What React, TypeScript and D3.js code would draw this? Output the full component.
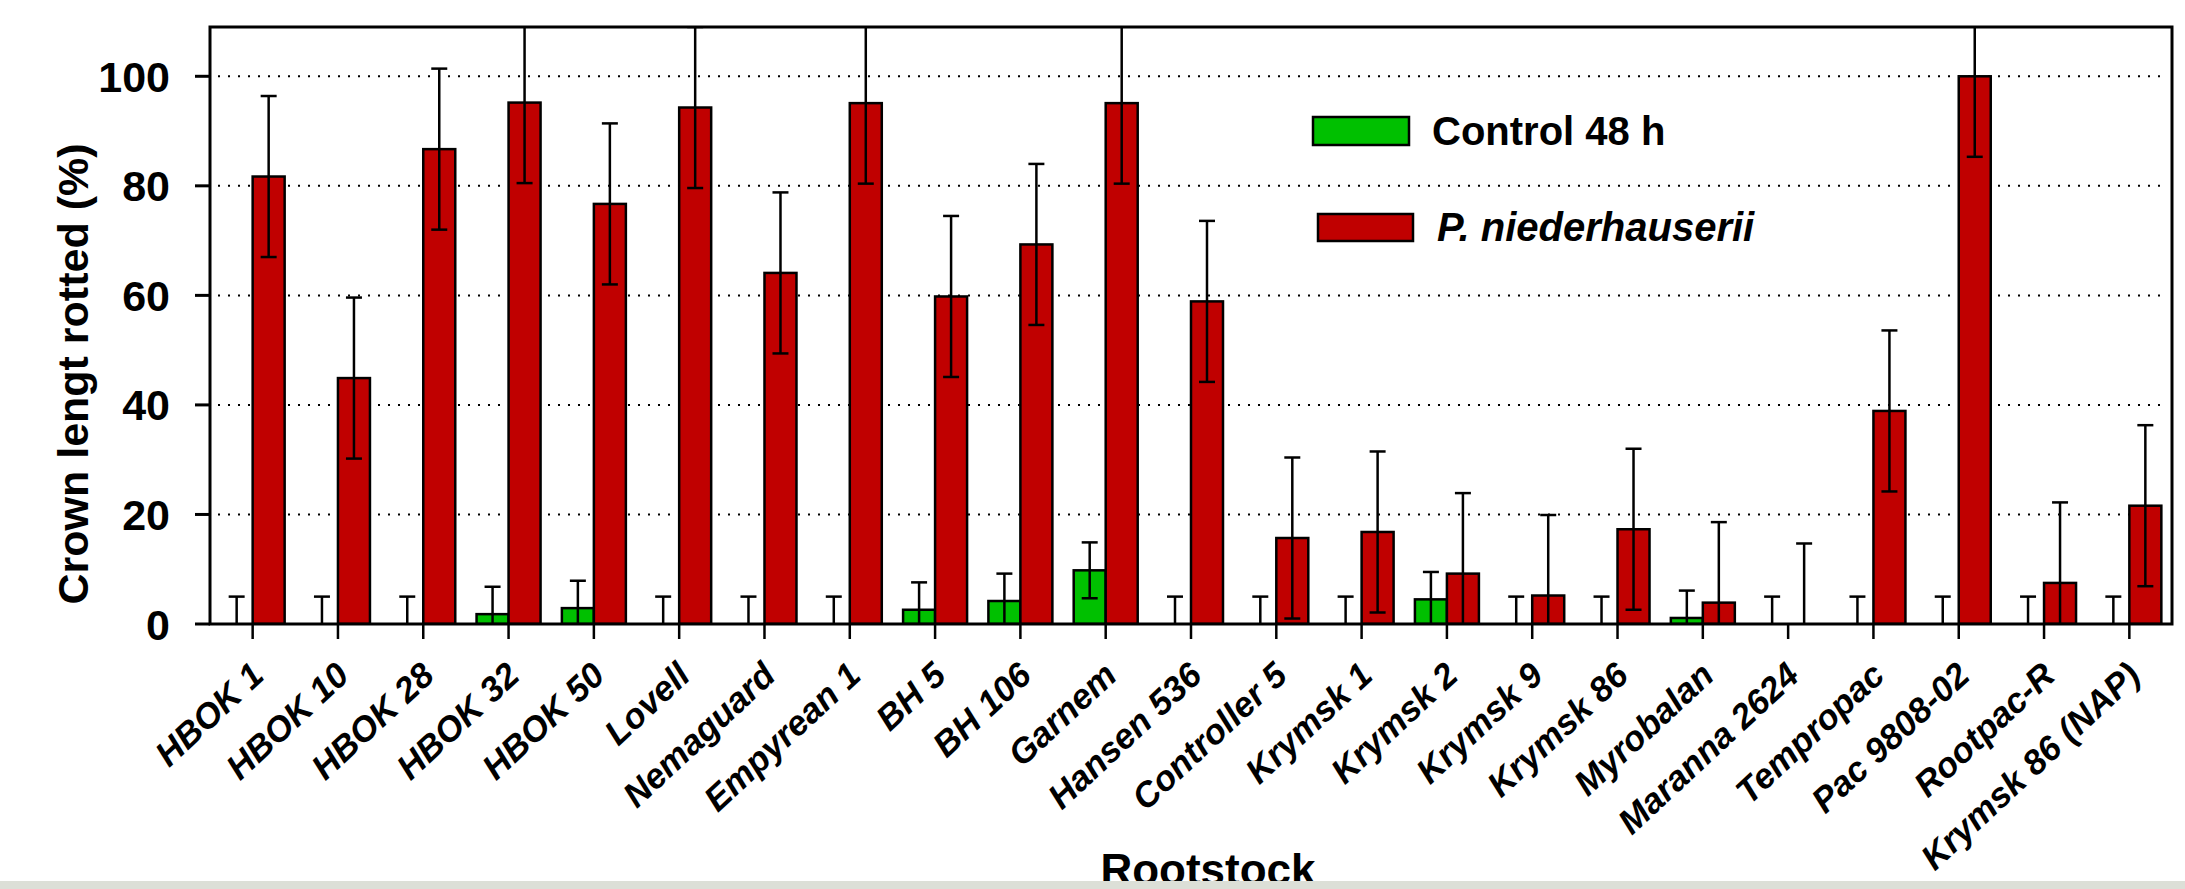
import * as d3 from "d3";

const categories = [
  "HBOK 1", "HBOK 10", "HBOK 28", "HBOK 32", "HBOK 50", "Lovell", "Nemaguard",
  "Empyrean 1", "BH 5", "BH 106", "Garnem", "Hansen 536", "Controller 5",
  "Krymsk 1", "Krymsk 2", "Krymsk 9", "Krymsk 86", "Myrobalan", "Maranna 2624",
  "Tempropac", "Pac 9808-02", "Rootpac-R", "Krymsk 86 (NAP)",
];
// Control 48 h
const control = [0, 0, 0, 1.8, 2.9, 0, 0, 0, 2.6, 4.2, 9.8, 0, 0, 0, 4.5, 0, 0, 1.1, 0, 0, 0, 0, 0];
const controlErr = [5, 5, 5, 5, 5, 5, 5, 5, 5, 5, 5.1, 5, 5, 5, 5, 5, 5, 5, 5, 5, 5, 5, 5];
// P. niederhauserii
const infected = [81.7, 44.9, 86.7, 95.2, 76.7, 94.3, 64.1, 95.1, 59.8, 69.3, 95.1, 58.9, 15.7, 16.8, 9.2, 5.2, 17.3, 3.9, 0, 38.9, 100, 7.5, 21.6];
const infectedErr = [14.7, 14.7, 14.7, 14.7, 14.7, 14.7, 14.7, 14.7, 14.7, 14.7, 14.7, 14.7, 14.7, 14.7, 14.7, 14.7, 14.7, 14.7, 14.7, 14.7, 14.7, 14.7, 14.7];
const yTicks = [0, 20, 40, 60, 80, 100];
const gridTicks = [20, 40, 60, 80, 100];

const GREEN = "#00c000";
const RED = "#c00000";
const FONT = "'Liberation Sans', Arial, sans-serif";

export default function App() {
  const W = 2185;
  const H = 889;
  const left = 210, right = 2172, top = 27, bottom = 624;

  const x = d3.scaleBand().domain(categories).range([left, right]);
  const y = d3.scaleLinear().domain([0, 109]).range([bottom, top]);
  const barW = 32;
  const cap = 8;

  const errBar = (cx: number, v: number, e: number, key: string) => {
    const hi = v + e;
    const lo = v - e;
    return (
      <g key={key} stroke="#000" strokeWidth={2.5}>
        <line x1={cx} x2={cx} y1={y(Math.max(lo, 0))} y2={y(hi)} />
        {hi <= 109 && <line x1={cx - cap} x2={cx + cap} y1={y(hi)} y2={y(hi)} />}
        {lo >= 0 && <line x1={cx - cap} x2={cx + cap} y1={y(lo)} y2={y(lo)} />}
      </g>
    );
  };

  return (
    <svg
      width={W}
      height={H}
      style={{ position: "absolute", left: 0, top: 0, background: "#fff" }}
      fontFamily={FONT}
    >
      <defs>
        <clipPath id="plot">
          <rect x={left} y={top} width={right - left} height={bottom - top} />
        </clipPath>
      </defs>

      {/* grid */}
      {gridTicks.map((t) => (
        <line key={t} x1={left + 8} x2={right - 4} y1={y(t)} y2={y(t)}
          stroke="#000" strokeWidth={2} strokeDasharray="2 8" />
      ))}

      {/* bars */}
      <g clipPath="url(#plot)">
        {categories.map((c, i) => {
          const cx = (x(c) as number) + x.bandwidth() / 2;
          return (
            <g key={c}>
              {control[i] > 0 && (
                <rect x={cx - barW} y={y(control[i])} width={barW}
                  height={bottom - y(control[i])} fill={GREEN} stroke="#000" strokeWidth={2.5} />
              )}
              {infected[i] > 0 && (
                <rect x={cx} y={y(infected[i])} width={barW}
                  height={bottom - y(infected[i])} fill={RED} stroke="#000" strokeWidth={2.5} />
              )}
              {errBar(cx - barW / 2, control[i], controlErr[i], "g" + i)}
              {errBar(cx + barW / 2, infected[i], infectedErr[i], "r" + i)}
            </g>
          );
        })}
      </g>

      {/* frame */}
      <rect x={left} y={top} width={right - left} height={bottom - top}
        fill="none" stroke="#000" strokeWidth={3} />

      {/* y axis */}
      {yTicks.map((t) => (
        <g key={t}>
          <line x1={left - 15} x2={left} y1={y(t)} y2={y(t)} stroke="#000" strokeWidth={3} />
          <text x={170} y={y(t) + 15.5} textAnchor="end" fontSize={43} fontWeight="bold">{t}</text>
        </g>
      ))}
      <text transform="translate(88,374) rotate(-90)" textAnchor="middle"
        fontSize={43} fontWeight="bold">Crown lengt rotted (%)</text>

      {/* x axis */}
      {categories.map((c) => {
        const cx = (x(c) as number) + x.bandwidth() / 2;
        return (
          <g key={c}>
            <line x1={cx} x2={cx} y1={bottom} y2={bottom + 15} stroke="#000" strokeWidth={2.5} />
            <text transform={`translate(${cx + 13},${678}) rotate(-43)`} textAnchor="end"
              fontSize={35} fontWeight="bold" fontStyle="italic">{c}</text>
          </g>
        );
      })}
      <text x={1208} y={885} textAnchor="middle" fontSize={44} fontWeight="bold">Rootstock</text>

      {/* legend */}
      <rect x={1313} y={117} width={96} height={28} fill={GREEN} stroke="#000" strokeWidth={2.5} />
      <text x={1432} y={145} fontSize={40} fontWeight="bold">Control 48 h</text>
      <rect x={1318} y={214} width={95} height={27} fill={RED} stroke="#000" strokeWidth={2.5} />
      <text x={1437} y={241} fontSize={40} fontWeight="bold" fontStyle="italic">P. niederhauserii</text>

      {/* bottom strip */}
      <rect x={0} y={881} width={W} height={8} fill="#dcdfd7" />
    </svg>
  );
}
